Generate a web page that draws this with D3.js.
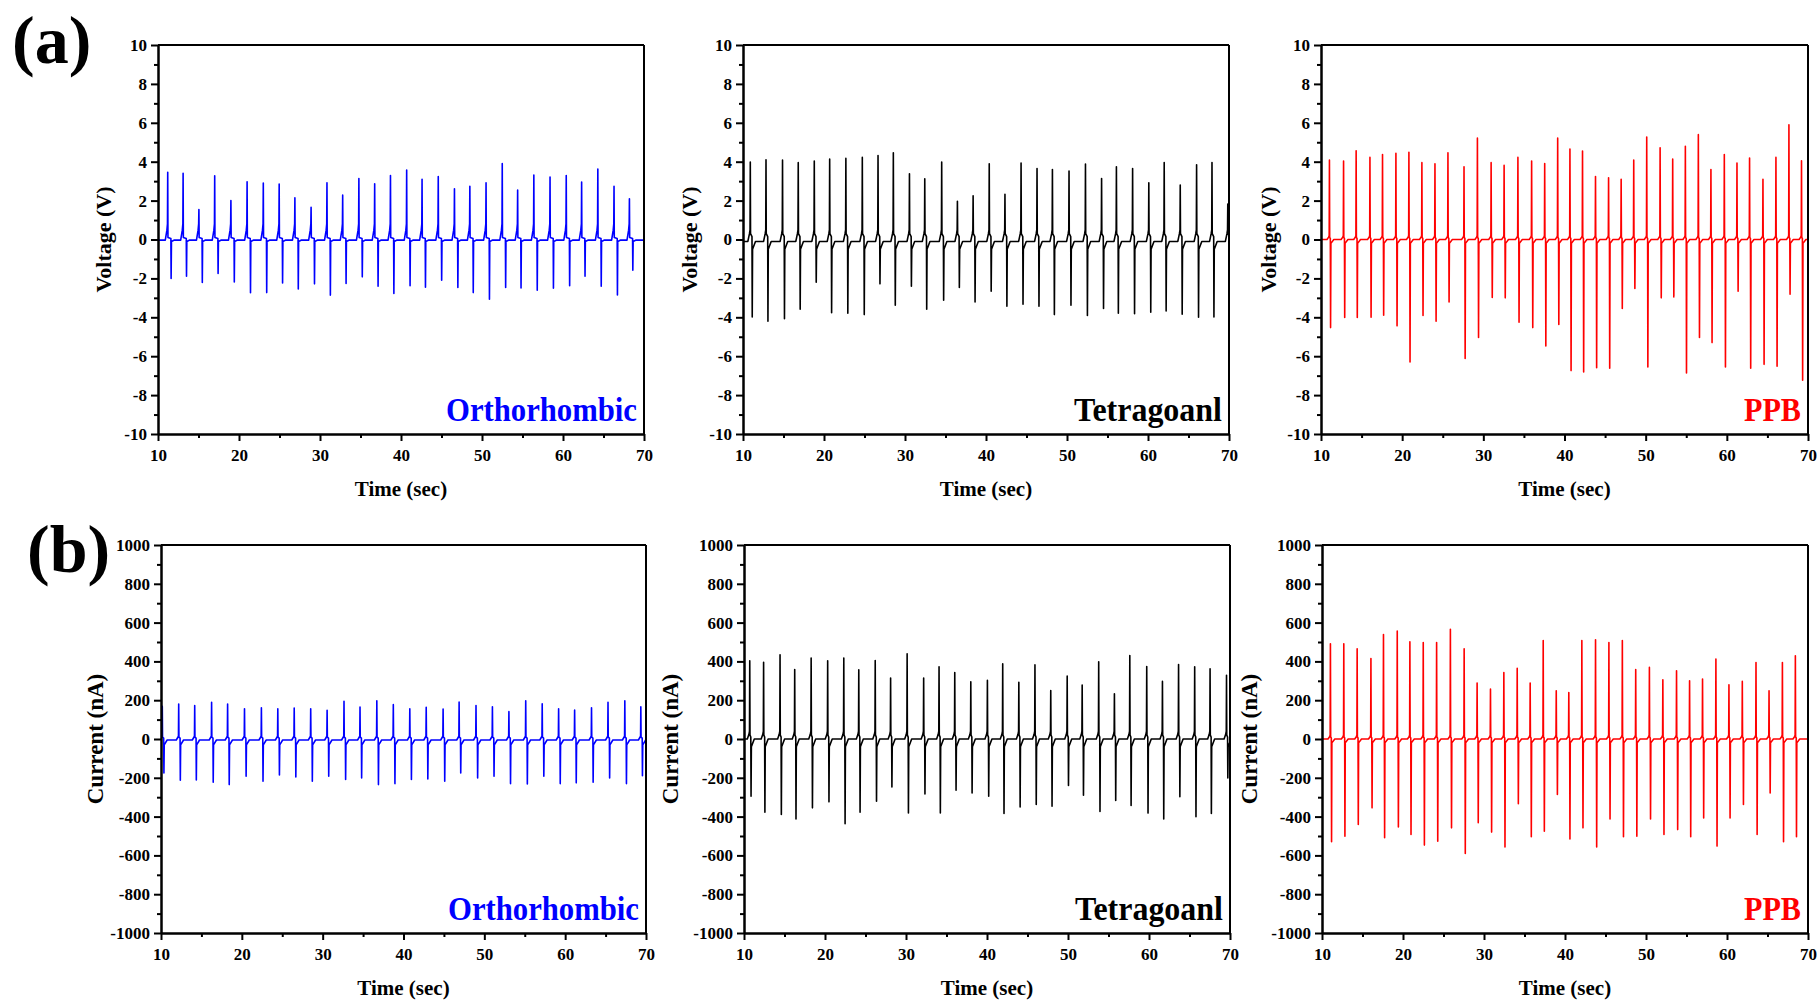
<!DOCTYPE html>
<html>
<head>
<meta charset="utf-8">
<script src="https://cdn.jsdelivr.net/npm/d3@7"></script>
<style>
  body { margin: 0; background: #fff; }
  svg { display: block; }
  text { font-family: "Liberation Serif", "Times New Roman", serif; font-weight: bold; }
  .axis path, .axis line { stroke: #000; stroke-width: 2; }
  .axis text { font-size: 17px; fill: #000; }
</style>
</head>
<body>
<svg id="chart" width="1819" height="1005"></svg>
<script>

// tick values
var timeTicks = [10, 20, 30, 40, 50, 60, 70];
var timeMinor = [15, 25, 35, 45, 55, 65];
var voltTicks = [-10, -8, -6, -4, -2, 0, 2, 4, 6, 8, 10];
var voltMinor = [-9, -7, -5, -3, -1, 1, 3, 5, 7, 9];
var currTicks = [-1000, -800, -600, -400, -200, 0, 200, 400, 600, 800, 1000];
var currMinor = [-900, -700, -500, -300, -100, 100, 300, 500, 700, 900];

// (a) voltage, orthorhombic : spike times (s), positive peaks, negative peaks (V)
var orthoVT = [11.2, 13.1, 15.05, 17.0, 19.0, 21.0, 23.0, 24.96, 26.9, 28.9, 30.86, 32.8, 34.8, 36.75, 38.7,
               40.7, 42.6, 44.6, 46.6, 48.5, 50.5, 52.5, 54.4, 56.4, 58.4, 60.4, 62.3, 64.3, 66.3, 68.2];
var orthoVPos = [3.46, 3.41, 1.54, 3.28, 2.0, 2.97, 2.9, 2.85, 2.14, 1.66, 2.92, 2.28, 3.14, 2.86, 3.29,
                 3.57, 3.1, 3.24, 2.61, 2.74, 2.92, 3.91, 2.54, 3.31, 3.21, 3.29, 2.95, 3.62, 2.74, 2.09];
var orthoVNeg = [-2.0, -1.89, -2.21, -1.75, -2.18, -2.74, -2.73, -2.23, -2.54, -2.28, -2.86, -2.26, -1.92, -2.4, -2.78,
                 -2.38, -2.45, -2.09, -2.47, -2.73, -3.07, -2.47, -2.49, -2.61, -2.5, -2.38, -1.89, -2.4, -2.85, -1.58];

// (a) voltage, tetragonal
var tetraVT = [10.9, 12.84, 14.88, 16.82, 18.8, 20.7, 22.7, 24.73, 26.67, 28.56, 30.55, 32.44, 34.53, 36.47, 38.41, 40.4,
               42.34, 44.33, 46.3, 48.2, 50.25, 52.28, 54.27, 56.1, 58.1, 60.1, 62.0, 63.98, 66.0, 67.9, 69.85];
var tetraVPos = [3.98, 4.1, 4.08, 3.95, 4.03, 4.13, 4.17, 4.22, 4.32, 4.46, 3.38, 3.12, 3.98, 1.97, 2.25, 3.89,
                 2.33, 3.93, 3.65, 3.6, 3.52, 3.88, 3.14, 3.74, 3.65, 2.92, 3.96, 2.8, 3.84, 3.96, 1.82];
var tetraVNeg = [-3.98, -4.2, -4.07, -3.58, -2.2, -3.76, -3.79, -3.86, -2.28, -3.38, -2.4, -3.58, -3.12, -2.47, -3.21, -2.66,
                 -3.43, -3.33, -3.43, -3.86, -3.38, -3.91, -3.55, -3.79, -3.82, -3.74, -3.67, -3.84, -4.0, -3.98, -0.7];

// (a) voltage, PPB
var ppbVT = [11.04, 12.78, 14.33, 16.03, 17.58, 19.23, 20.83, 22.43, 24.04, 25.64, 27.62, 29.27, 30.96, 32.56, 34.26, 35.95,
             37.56, 39.16, 40.67, 42.22, 43.82, 45.43, 46.98, 48.53, 50.13, 51.78, 53.33, 54.89, 56.49, 58.04, 59.69,
             61.25, 62.8, 64.45, 66.05, 67.65, 69.2];
var ppbVPos = [4.08, 4.03, 4.56, 4.22, 4.37, 4.43, 4.48, 3.95, 3.89, 4.46, 3.74, 5.21, 3.95, 3.81, 4.22, 4.03,
               3.91, 5.21, 4.65, 4.55, 3.24, 3.17, 3.1, 4.08, 5.27, 4.72, 4.13, 4.79, 5.39, 3.6, 4.37,
               3.93, 4.19, 3.1, 4.22, 5.9, 4.05];
var ppbVNeg = [-4.53, -4.01, -4.01, -4.0, -3.89, -4.44, -6.3, -3.91, -4.2, -3.21, -6.12, -5.04, -2.98, -3.0, -4.25, -4.53,
               -5.47, -4.37, -6.74, -6.81, -6.59, -6.62, -3.55, -2.52, -6.55, -3.0, -2.95, -6.86, -5.04, -5.3, -6.55,
               -2.66, -6.62, -6.42, -6.52, -2.81, -7.24];

// (b) current, orthorhombic (nA)
var orthoIT = [10.16, 12.19, 14.17, 16.26, 18.24, 20.33, 22.42, 24.45, 26.48, 28.52, 30.55, 32.64, 34.62, 36.7, 38.74,
               40.78, 42.81, 44.9, 46.88, 48.97, 51.0, 53.04, 55.12, 57.16, 59.19, 61.17, 63.26, 65.3, 67.38, 69.36];
var orthoIPos = [168, 180, 173, 189, 180, 156, 161, 156, 160, 156, 148, 194, 165, 197, 177,
                 156, 163, 154, 190, 173, 166, 141, 197, 182, 156, 149, 161, 189, 197, 166];
var orthoINeg = [-175, -213, -211, -223, -235, -192, -218, -185, -196, -218, -192, -209, -201, -235, -230,
                 -209, -206, -218, -175, -201, -192, -230, -232, -192, -230, -226, -223, -201, -230, -189];

// (b) current, tetragonal
var tetraIT = [10.71, 12.42, 14.45, 16.26, 18.29, 20.33, 22.32, 24.17, 26.2, 28.1, 30.14, 32.18, 34.08, 36.02, 38.0, 40.05,
               41.94, 43.93, 45.92, 47.87, 49.9, 51.75, 53.79, 55.73, 57.63, 59.72, 61.66, 63.65, 65.64, 67.54, 69.57];
var tetraIPos = [403, 395, 434, 358, 417, 403, 417, 357, 405, 314, 439, 314, 372, 343, 295, 302,
                 388, 292, 382, 250, 324, 278, 398, 233, 430, 374, 297, 384, 372, 362, 328];
var tetraINeg = [-295, -377, -389, -412, -355, -324, -437, -377, -321, -247, -381, -283, -381, -264, -278, -295,
                 -384, -350, -338, -346, -240, -290, -374, -317, -343, -382, -412, -298, -401, -384, -201];

// (b) current, PPB
var ppbIT = [11.04, 12.69, 14.34, 16.04, 17.59, 19.29, 20.85, 22.5, 24.15, 25.85, 27.55, 29.15, 30.8, 32.45, 34.1, 35.7,
             37.31, 38.92, 40.47, 42.08, 43.77, 45.42, 47.08, 48.73, 50.42, 52.08, 53.77, 55.38, 56.98, 58.63, 60.24,
             61.89, 63.58, 65.19, 66.84, 68.44];
var ppbIPos = [491, 491, 465, 415, 539, 556, 501, 497, 497, 566, 465, 288, 257, 343, 364, 288,
               508, 249, 240, 508, 511, 497, 508, 358, 369, 305, 352, 300, 309, 412, 280,
               297, 394, 249, 394, 429];
var ppbINeg = [-530, -501, -441, -355, -509, -453, -492, -547, -527, -458, -590, -432, -480, -557, -334, -504,
               -475, -286, -515, -458, -557, -412, -504, -501, -412, -492, -467, -504, -407, -552, -407,
               -338, -492, -278, -530, -504];

var blue = '#0000ff', black = '#000000', red = '#ff0000';

// spike shape around each event: dn = delay to negative peak, pre/post small bumps
var panels = [
  { t: orthoVT, p: orthoVPos, n: orthoVNeg, color: blue, name: 'Orthorhombic', nameW: 191,
    yLab: 'Voltage (V)', yTicks: voltTicks, yMinor: voltMinor, yMax: 10,
    shape: { dn: 0.42, pre: 0.8, mid: 0.1, post: -0.1, base: -0.03 },
    x0: 158, x1: 644, y0: 45, y1: 434, labX: 103 },
  { t: tetraVT, p: tetraVPos, n: tetraVNeg, color: black, name: 'Tetragoanl', nameW: 148,
    yLab: 'Voltage (V)', yTicks: voltTicks, yMinor: voltMinor, yMax: 10,
    shape: { dn: 0.24, pre: 0.5, mid: 0.3, post: -0.5, base: -0.1 },
    x0: 743, x1: 1229, y0: 45, y1: 434, labX: 689 },
  { t: ppbVT, p: ppbVPos, n: ppbVNeg, color: red, name: 'PPB', nameW: 57,
    yLab: 'Voltage (V)', yTicks: voltTicks, yMinor: voltMinor, yMax: 10,
    shape: { dn: 0.14, pre: 0.2, mid: 0.1, post: -0.2, base: 0 },
    x0: 1321, x1: 1808, y0: 45, y1: 434, labX: 1268 },
  { t: orthoIT, p: orthoIPos, n: orthoINeg, color: blue, name: 'Orthorhombic', nameW: 191,
    yLab: 'Current (nA)', yTicks: currTicks, yMinor: currMinor, yMax: 1000,
    shape: { dn: 0.2, pre: 15, mid: 10, post: -30, base: -5 },
    x0: 161, x1: 646, y0: 545, y1: 933, labX: 95 },
  { t: tetraIT, p: tetraIPos, n: tetraINeg, color: black, name: 'Tetragoanl', nameW: 148,
    yLab: 'Current (nA)', yTicks: currTicks, yMinor: currMinor, yMax: 1000,
    shape: { dn: 0.16, pre: 40, mid: 20, post: -40, base: 0 },
    x0: 744, x1: 1230, y0: 545, y1: 933, labX: 670 },
  { t: ppbIT, p: ppbIPos, n: ppbINeg, color: red, name: 'PPB', nameW: 57,
    yLab: 'Current (nA)', yTicks: currTicks, yMinor: currMinor, yMax: 1000,
    shape: { dn: 0.14, pre: 20, mid: 10, post: -20, base: 0 },
    x0: 1322, x1: 1808, y0: 545, y1: 933, labX: 1249 }
];

function buildTrace(times, pos, neg, s) {
    var pts = [[10, s.base]];
    times.forEach(function (tp, i) {
        var tn = tp + s.dn;
        pts.push([tp - 0.3, s.base]);
        pts.push([tp - 0.1, s.pre * 0.6]);
        pts.push([tp - 0.03, s.pre]);
        pts.push([tp, pos[i]]);
        pts.push([tp + 0.03, s.mid]);
        pts.push([tn - 0.03, s.mid * 0.5]);
        pts.push([tn, neg[i]]);
        pts.push([tn + 0.04, s.post]);
        pts.push([tn + 0.4, s.base]);
    });
    pts.push([70.5, s.base]);
    return pts;
}

var svg = d3.select('#chart');

svg.append('text').attr('x', 12).attr('y', 63).style('font-size', '68px').text('(a)');
svg.append('text').attr('x', 27).attr('y', 572).style('font-size', '68px').text('(b)');

panels.forEach(function (cfg, k) {
    var x = d3.scaleLinear().domain([10, 70]).range([cfg.x0, cfg.x1]);
    var y = d3.scaleLinear().domain([-cfg.yMax, cfg.yMax]).range([cfg.y1, cfg.y0]);
    var fmt = function (d) { return String(d); };

    var clipId = 'clip' + k;
    svg.append('clipPath').attr('id', clipId)
      .append('rect')
      .attr('x', cfg.x0).attr('y', cfg.y0)
      .attr('width', cfg.x1 - cfg.x0).attr('height', cfg.y1 - cfg.y0);

    var line = d3.line()
      .x(function (d) { return x(d[0]); })
      .y(function (d) { return y(d[1]); });

    svg.append('path')
      .datum(buildTrace(cfg.t, cfg.p, cfg.n, cfg.shape))
      .attr('clip-path', 'url(#' + clipId + ')')
      .attr('fill', 'none')
      .attr('stroke', cfg.color)
      .attr('stroke-width', 1.6)
      .attr('stroke-linejoin', 'round')
      .attr('d', line);

    // frame: top and right lines
    svg.append('line').attr('x1', cfg.x0).attr('x2', cfg.x1).attr('y1', cfg.y0).attr('y2', cfg.y0)
      .attr('stroke', '#000').attr('stroke-width', 2);
    svg.append('line').attr('x1', cfg.x1).attr('x2', cfg.x1).attr('y1', cfg.y0).attr('y2', cfg.y1)
      .attr('stroke', '#000').attr('stroke-width', 2);

    svg.append('g').attr('class', 'axis')
      .attr('transform', 'translate(' + cfg.x0 + ',0)')
      .call(d3.axisLeft(y).tickValues(cfg.yMinor).tickSize(4).tickSizeOuter(0).tickFormat(''));
    svg.append('g').attr('class', 'axis')
      .attr('transform', 'translate(' + cfg.x0 + ',0)')
      .call(d3.axisLeft(y).tickValues(cfg.yTicks).tickSize(7).tickPadding(4).tickSizeOuter(0).tickFormat(fmt));

    svg.append('g').attr('class', 'axis')
      .attr('transform', 'translate(0,' + cfg.y1 + ')')
      .call(d3.axisBottom(x).tickValues(timeMinor).tickSize(4).tickSizeOuter(0).tickFormat(''));
    svg.append('g').attr('class', 'axis')
      .attr('transform', 'translate(0,' + cfg.y1 + ')')
      .call(d3.axisBottom(x).tickValues(timeTicks).tickSize(7).tickPadding(8).tickSizeOuter(0).tickFormat(fmt));

    // axis titles
    svg.append('text')
      .attr('transform', 'translate(' + cfg.labX + ',' + ((cfg.y0 + cfg.y1) / 2) + ') rotate(-90)')
      .attr('text-anchor', 'middle')
      .attr('dy', '0.35em')
      .style('font-size', cfg.yMax === 10 ? '22px' : '23px')
      .text(cfg.yLab);

    svg.append('text')
      .attr('x', (cfg.x0 + cfg.x1) / 2)
      .attr('y', cfg.y1 + 62)
      .attr('text-anchor', 'middle')
      .style('font-size', '21px')
      .text('Time (sec)');

    // sample name
    svg.append('text')
      .attr('x', cfg.x1 - 7)
      .attr('y', cfg.y1 - 13)
      .attr('text-anchor', 'end')
      .attr('textLength', cfg.nameW)
      .attr('lengthAdjust', 'spacingAndGlyphs')
      .style('font-size', '33px')
      .style('fill', cfg.color)
      .text(cfg.name);
});
</script>
</body>
</html>
